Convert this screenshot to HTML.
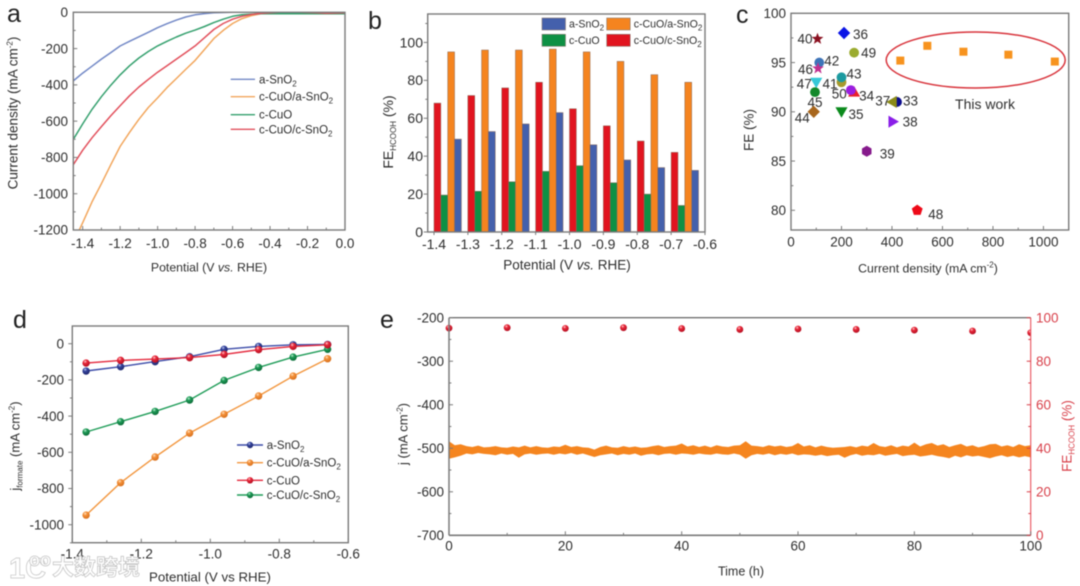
<!DOCTYPE html>
<html lang="en">
<head>
<meta charset="utf-8">
<title>Electrocatalysis performance charts</title>
<style>
html,body{margin:0;padding:0;background:#fff;width:1080px;height:586px;overflow:hidden}
svg{display:block;filter:blur(0.5px)}
text{font-family:"Liberation Sans","Noto Sans CJK SC",sans-serif;fill:#2e2e2e}
</style>
</head>
<body>
<svg id="chart" width="1080" height="586" viewBox="0 0 1080 586" xmlns="http://www.w3.org/2000/svg">
<defs>
<radialGradient id="ballRed" cx="38%" cy="30%" r="70%"><stop offset="0" stop-color="#ffd0d0"/><stop offset=".35" stop-color="#e8283a"/><stop offset="1" stop-color="#b40f22"/></radialGradient>
<radialGradient id="ballBlue" cx="38%" cy="30%" r="70%"><stop offset="0" stop-color="#c8d0f0"/><stop offset=".35" stop-color="#34449e"/><stop offset="1" stop-color="#20286e"/></radialGradient>
<radialGradient id="ballOrange" cx="38%" cy="30%" r="70%"><stop offset="0" stop-color="#ffe6c8"/><stop offset=".35" stop-color="#f4913a"/><stop offset="1" stop-color="#d8701c"/></radialGradient>
<radialGradient id="ballGreen" cx="38%" cy="30%" r="70%"><stop offset="0" stop-color="#c8f0d8"/><stop offset=".35" stop-color="#1f9c58"/><stop offset="1" stop-color="#0c6c38"/></radialGradient>
<clipPath id="clipA"><rect x="73" y="12" width="272" height="218"/></clipPath>
<clipPath id="clipE"><rect x="443" y="312" width="588" height="224"/></clipPath>
</defs>
<g id="panelA"></g>
<g id="panelB"></g>
<g id="panelC"></g>
<g id="panelD"></g>
<g id="panelE"></g>
<g>
<text x="9" y="578" font-size="29" font-weight="bold" style="fill:#fff;stroke:#c4c4c4;stroke-width:.7">1C</text>
<text x="29" y="566" font-size="18" font-weight="bold" style="fill:#fff;stroke:#c4c4c4;stroke-width:.7">oo</text>
<text x="52" y="575" font-size="22" font-weight="bold" style="fill:#fff;stroke:#c0c0c0;stroke-width:.7">大数跨境</text>
</g>
</svg>
<script>
/* ---------- panel a data ---------- */
const aPotential = [-1.45,-1.4,-1.35,-1.3,-1.25,-1.2,-1.15,-1.1,-1.05,-1.0,-0.95,-0.9,-0.85,-0.8,-0.75,-0.7,-0.65,-0.6,-0.55,-0.5,-0.45,-0.4,-0.35,-0.3,-0.25,-0.2,-0.15,-0.1,-0.05,0];
const aSnO2 = [-378,-335,-297,-258,-222,-186,-160,-135,-110,-85,-63,-43,-26,-14,-7,-3,-1,0,0,0,0,0,0,0,0,-1,-1,-2,-2,-2];
const aCuOaSnO2 = [-1270,-1160,-1045,-945,-840,-740,-662,-590,-525,-472,-415,-365,-315,-265,-205,-145,-100,-62,-35,-18,-8,-3,0,0,0,0,0,0,0,0];
const aCuO = [-700,-615,-535,-465,-402,-345,-295,-252,-216,-185,-160,-136,-115,-98,-78,-57,-38,-22,-14,-10,-8,-8,-8,-8,-8,-8,-8,-8,-8,-8];
const aCuOcSnO2 = [-840,-760,-692,-630,-570,-515,-460,-412,-370,-330,-295,-258,-222,-185,-140,-95,-62,-38,-22,-12,-6,-2,0,0,0,-1,-3,-5,-4,-3];
const aXTicks = ['-1.4','-1.2','-1.0','-0.8','-0.6','-0.4','-0.2','0.0'];
const aXMinor = [-1.3,-1.1,-0.9,-0.7,-0.5,-0.3,-0.1];
const aYTicks = ['0','-200','-400','-600','-800','-1000','-1200'];
const aYMinor = [-100,-300,-500,-700,-900,-1100];

/* ---------- panel b data ---------- */
const bCategories = ['-1.4','-1.3','-1.2','-1.1','-1.0','-0.9','-0.8','-0.7'];
const bCuOcSnO2 = [68,72,76,79,65,56,48,42];
const bCuO = [19.5,21.5,26.5,32,35,26,20,14];
const bCuOaSnO2 = [95,96,96,96.5,95,90,83,79];
const bSnO2 = [49,53,57,63,46,38,34,32.5];
const bXTicks = ['-1.4','-1.3','-1.2','-1.1','-1.0','-0.9','-0.8','-0.7','-0.6'];
const bYTicks = ['0','20','40','60','80','100'];
const bYMinor = [10,30,50,70,90,110];

/* ---------- panel c data ---------- */
const cLabels = ['36','40','49','42','46','41','43','47','45','44','34','50','35','37','33','38','39','48'];
const cCurrent = [210,105,250,112,107,200,200,100,95,90,250,237,200,405,420,400,300,500];
const cFE = [98,97.4,96,95,94.4,93,93.5,93,92,90,92,92.2,90,91,91,89,86,80];
const cWorkCurrent = [433,540,683,861,1045];
const cWorkFE = [95.2,96.7,96.1,95.8,95.1];
const cXTicks = ['0','200','400','600','800','1000'];
const cXMinor = [100,300,500,700,900,1100];
const cYTicks = ['80','85','90','95','100'];
const cYMinor = [82.5,87.5,92.5,97.5];

/* ---------- panel d data ---------- */
const dPotential = [-1.36,-1.26,-1.16,-1.06,-0.96,-0.86,-0.76,-0.66];
const dSnO2 = [-151,-127,-99,-72,-31,-15,-6,-4];
const dCuOaSnO2 = [-947,-768,-626,-494,-390,-289,-179,-83];
const dCuO = [-107,-92,-85,-77,-59,-33,-15,-6];
const dCuOcSnO2 = [-488,-431,-374,-311,-203,-131,-74,-31];
const dXTicks = ['-1.4','-1.2','-1.0','-0.8','-0.6'];
const dXMinor = [-1.3,-1.1,-0.9,-0.7];
const dYTicks = ['0','-200','-400','-600','-800','-1000'];
const dYMinor = [-100,-300,-500,-700,-900,-1100];

/* ---------- panel e data ---------- */
const eHours = [0,1,2,3,4,5,6,7,8,9,10,11,12,13,14,15,16,17,18,19,20,21,22,23,24,25,26,27,28,29,30,31,32,33,34,35,36,37,38,39,40,41,42,43,44,45,46,47,48,49,50,51,52,53,54,55,56,57,58,59,60,61,62,63,64,65,66,67,68,69,70,71,72,73,74,75,76,77,78,79,80,81,82,83,84,85,86,87,88,89,90,91,92,93,94,95,96,97,98,99,100];
const eCurrentHigh = [-484,-493,-491,-495,-497,-494,-498,-497,-495,-498,-499,-496,-498,-494,-498,-495,-498,-499,-496,-497,-492,-497,-495,-498,-499,-503,-497,-494,-498,-499,-495,-498,-496,-499,-498,-495,-493,-497,-495,-494,-489,-496,-493,-497,-494,-498,-493,-496,-497,-494,-493,-484,-494,-495,-497,-493,-496,-494,-497,-495,-488,-496,-493,-498,-494,-497,-499,-498,-497,-495,-498,-494,-496,-488,-495,-497,-493,-498,-494,-496,-487,-496,-491,-488,-494,-491,-497,-493,-490,-496,-493,-498,-495,-491,-490,-496,-493,-497,-491,-495,-493];
const eCurrentLow = [-524,-521,-517,-512,-514,-511,-513,-514,-516,-512,-515,-513,-522,-514,-512,-515,-513,-512,-515,-512,-514,-511,-515,-512,-516,-520,-516,-514,-512,-516,-513,-515,-512,-517,-514,-513,-516,-513,-512,-515,-512,-513,-515,-512,-514,-515,-512,-514,-515,-512,-515,-524,-516,-513,-515,-512,-516,-513,-515,-512,-516,-514,-515,-517,-515,-518,-516,-515,-522,-516,-513,-517,-515,-516,-513,-517,-515,-513,-518,-516,-515,-519,-517,-515,-518,-520,-523,-517,-521,-516,-519,-517,-520,-523,-519,-516,-520,-517,-521,-518,-521];
const eFETime = [0,10,20,30,40,50,60,70,80,90,100];
const eFEValues = [95.2,95.4,95.1,95.4,95,94.6,94.8,94.6,94.3,93.9,93.1];
const eXTicks = ['0','20','40','60','80','100'];
const eXMinor = [10,30,50,70,90];
const eYTicks = ['-200','-300','-400','-500','-600','-700'];
const eYMinor = [-250,-350,-450,-550,-650];
const eRTicks = ['0','20','40','60','80','100'];
const eRMinor = [10,30,50,70,90];

/* ---------- helpers ---------- */
const NS = 'http://www.w3.org/2000/svg';
const AXIS = '#7a7a7a';
function mk(tag, attrs, parent) {
  const el = document.createElementNS(NS, tag);
  for (const k in attrs) el.setAttribute(k, attrs[k]);
  parent.appendChild(el);
  return el;
}
function txt(markup, x, y, size, anchor, parent, color) {
  const el = mk('text', {x: x, y: y + size * 0.35, 'font-size': size, 'text-anchor': anchor || 'start'}, parent);
  el.innerHTML = markup;
  if (color) el.style.fill = color;
  return el;
}
function vtxt(markup, x, y, size, parent, color) {
  const el = mk('text', {x: 0, y: size * 0.35, 'font-size': size, 'text-anchor': 'middle', transform: 'translate(' + x + ' ' + y + ') rotate(-90)'}, parent);
  el.innerHTML = markup;
  if (color) el.style.fill = color;
  return el;
}
function scale(d0, d1, p0, p1) { return v => p0 + (v - d0) / (d1 - d0) * (p1 - p0); }
function frame(x, y, w, h, parent) {
  const el = mk('rect', {x: x, y: y, width: w, height: h, fill: 'none', stroke: AXIS, 'stroke-width': 1.4}, parent);
  
  
  return el;
}
function xAxis(sx, y0, labels, minors, len, labelY, size, parent, prefix) {
  labels.forEach(l => {
    const x = sx(+l);
    const t = mk('line', {x1: x, x2: x, y1: y0, y2: y0 + len, stroke: AXIS, 'stroke-width': 1}, parent);
    
    
    const lab = txt(l, x, labelY, size, 'middle', parent);
    
    
  });
  minors.forEach(m => {
    const x = sx(m);
    const t = mk('line', {x1: x, x2: x, y1: y0, y2: y0 + len * 0.6, stroke: AXIS, 'stroke-width': 1}, parent);
    
    
  });
}
function yAxis(sy, x0, labels, minors, len, labelX, size, anchor, parent, prefix, color) {
  labels.forEach(l => {
    const y = sy(+l);
    const t = mk('line', {x1: x0, x2: x0 + len, y1: y, y2: y, stroke: color || AXIS, 'stroke-width': 1}, parent);
    
    
    const lab = txt(l, labelX, y, size, anchor, parent, color);
    
    
  });
  minors.forEach(m => {
    const y = sy(m);
    const t = mk('line', {x1: x0, x2: x0 + len * 0.6, y1: y, y2: y, stroke: color || AXIS, 'stroke-width': 1}, parent);
    
    
  });
}
function letter(ch, x, y, size, parent) {
  const el = mk('text', {x: x, y: y, 'font-size': size}, parent);
  el.textContent = ch;
  el.style.fill = '#222';
  
  
}
const SUB2 = '<tspan dy="3" font-size="8">2</tspan>';
const SUP2 = '<tspan dy="-5" font-size="8">-2</tspan><tspan dy="5">)</tspan>';
const NAMES = ['a-SnO' + SUB2, 'c-CuO/a-SnO' + SUB2, 'c-CuO', 'c-CuO/c-SnO' + SUB2];

/* ---------- panel a ---------- */
(function () {
  const g = document.getElementById('panelA');
  const sx = scale(-1.45, 0, 73.3, 345);
  const sy = scale(0, -1200, 12.3, 230);
  letter('a', 7, 22, 25, g);
  const colors = ['#7288c6', '#f2a65c', '#35a06e', '#e2505c'];
  const keys = ['a-sno2', 'c-cuo-a-sno2', 'c-cuo', 'c-cuo-c-sno2'];
  const series = [aSnO2, aCuOaSnO2, aCuO, aCuOcSnO2];
  series.forEach((s, i) => {
    const pts = s.map((v, j) => sx(aPotential[j]).toFixed(1) + ',' + sy(v).toFixed(1)).join(' ');
    const line = mk('polyline', {points: pts, fill: 'none', stroke: colors[i], 'stroke-width': 1.5, 'stroke-linejoin': 'round', 'clip-path': 'url(#clipA)'}, g);
    
    
  });
  frame(73.3, 12.3, 271.7, 217.7, g);
  xAxis(sx, 230, aXTicks, aXMinor, -4, 243.5, 13.5, g, 'panel-a');
  yAxis(sy, 73.3, aYTicks, aYMinor, 4, 68, 13.5, 'end', g, 'panel-a');
  const t1 = txt('Potential (V <tspan font-style="italic">vs.</tspan> RHE)', 209, 267, 12.3, 'middle', g);
  
  
  const t2 = vtxt('Current density (mA cm' + SUP2, 13, 113, 13.5, g);
  
  
  const ly = [79.3, 96.7, 114.7, 129.3];
  NAMES.forEach((n, i) => {
    const l = mk('line', {x1: 230.7, x2: 255, y1: ly[i], y2: ly[i], stroke: colors[i], 'stroke-width': 1.4}, g);
    
    
    const t = txt(n, 259, ly[i], 11.5, 'start', g);
    
    
  });
})();

/* ---------- panel b ---------- */
(function () {
  const g = document.getElementById('panelB');
  const sx = scale(-1.4, -0.6, 434, 705);
  const sy = scale(0, 115, 232, 14);
  letter('b', 368, 29, 25, g);
  const series = [bCuOcSnO2, bCuO, bCuOaSnO2, bSnO2];
  const colors = ['#e1141f', '#0e9044', '#f5841f', '#4460ac'];
  const keys = ['c-cuo-c-sno2', 'c-cuo', 'c-cuo-a-sno2', 'a-sno2'];
  const barW = 6.85;
  series.forEach((s, i) => {
    s.forEach((v, j) => {
      const x = sx(+bCategories[j]) + i * barW;
      const r = mk('rect', {x: x, y: sy(v), width: barW, height: sy(0) - sy(v), fill: colors[i], stroke: '#8a6a5a', 'stroke-width': 0.5}, g);
      
      
    });
  });
  frame(427.7, 14, 277.3, 218, g);
  xAxis(sx, 232, bXTicks, [], 3, 244, 14, g, 'panel-b');
  yAxis(sy, 427.7, bYTicks, bYMinor, -4, 423, 14, 'end', g, 'panel-b');
  const t1 = txt('Potential (V <tspan font-style="italic">vs.</tspan> RHE)', 567, 265, 13.5, 'middle', g);
  
  
  const t2 = vtxt('FE<tspan dy="3" font-size="8">HCOOH</tspan><tspan dy="-3"> (%)</tspan>', 388, 132, 14, g);
  
  
  const legendColors = ['#4460ac', '#f5841f', '#0e9044', '#e1141f'];
  const legendKeys = ['a-sno2', 'c-cuo-a-sno2', 'c-cuo', 'c-cuo-c-sno2'];
  const lx = [542, 606.7, 542, 606.7];
  const ly = [18, 18, 34.3, 34.3];
  NAMES.forEach((n, i) => {
    const r = mk('rect', {x: lx[i], y: ly[i], width: 23.5, height: 12, fill: legendColors[i], stroke: '#8a7a70', 'stroke-width': 0.6}, g);
    
    
    const t = txt(n, lx[i] + 27, ly[i] + 6, 10.6, 'start', g);
    
    
  });
})();

/* ---------- panel c ---------- */
(function () {
  const g = document.getElementById('panelC');
  const sx = scale(0, 1100, 791, 1068.7);
  const sy = scale(78, 100, 230, 13.3);
  letter('c', 736, 23, 25, g);
  frame(791, 13.3, 277.7, 216.7, g);
  xAxis(sx, 230, cXTicks, cXMinor, -4, 241.7, 13.5, g, 'panel-c');
  yAxis(sy, 791, cYTicks, cYMinor, 4, 786, 13.5, 'end', g, 'panel-c');
  function poly(n, cx, cy, r, rot) {
    const p = [];
    for (let i = 0; i < n; i++) {
      const a = rot + i * 2 * Math.PI / n;
      p.push((cx + r * Math.cos(a)).toFixed(2) + ',' + (cy + r * Math.sin(a)).toFixed(2));
    }
    return p.join(' ');
  }
  function star(cx, cy, r) {
    const p = [];
    for (let i = 0; i < 10; i++) {
      const a = -Math.PI / 2 + i * Math.PI / 5;
      const q = i % 2 ? r * 0.42 : r;
      p.push((cx + q * Math.cos(a)).toFixed(2) + ',' + (cy + q * Math.sin(a)).toFixed(2));
    }
    return p.join(' ');
  }
  const mStyle = {
    '36': ['diamond', '#0a14e6', 9, 1.3, 'start'],
    '40': ['star', '#8a1020', -5, 0, 'end'],
    '49': ['circle', '#9aab2e', 7, 0, 'start'],
    '42': ['circle', '#3d74b8', 5, -2, 'start'],
    '46': ['star', '#c0308f', -5, 1, 'end'],
    '41': ['circle', '#a69a2d', -4, 1.5, 'end'],
    '43': ['circle', '#1c9aa0', 5, -3.5, 'start'],
    '47': ['tridown', '#35c8d8', -4.5, 1.5, 'end'],
    '45': ['circle', '#12882a', 0, 10, 'middle'],
    '44': ['diamond', '#a8661c', -4, 6, 'end'],
    '34': ['triup', '#e8202c', 5, 3.6, 'start'],
    '50': ['circle', '#9a1ee0', -4, 3.5, 'end'],
    '35': ['tridown', '#0a8a1c', 7, 2.3, 'start'],
    '37': ['trileft', '#8a8a18', -3, -1, 'end'],
    '33': ['circle', '#0c0c8c', 6, -1, 'start'],
    '38': ['triright', '#8a1ee8', 10.7, 0, 'start'],
    '39': ['hex', '#861a8c', 13, 2.5, 'start'],
    '48': ['pent', '#ee0a18', 11, 4, 'start']
  };
  const order = ['36','40','49','33','37','42','46','41','43','47','45','44','35','34','50','38','39','48'];
  order.forEach(lab => {
    const i = cLabels.indexOf(lab);
    const st = mStyle[lab];
    const x = sx(cCurrent[i]);
    const y = sy(cFE[i]);
    const R = 6.2;
    let m;
    if (st[0] === 'circle') m = mk('circle', {cx: x, cy: y, r: R - 1.3, fill: st[1]}, g);
    else if (st[0] === 'diamond') m = mk('polygon', {points: poly(4, x, y, R, 0), fill: st[1]}, g);
    else if (st[0] === 'star') m = mk('polygon', {points: star(x, y, R), fill: st[1]}, g);
    else if (st[0] === 'tridown') m = mk('polygon', {points: poly(3, x, y - 1, R + 0.8, Math.PI / 2), fill: st[1]}, g);
    else if (st[0] === 'triup') m = mk('polygon', {points: poly(3, x, y + 1, R + 0.8, -Math.PI / 2), fill: st[1]}, g);
    else if (st[0] === 'trileft') m = mk('polygon', {points: poly(3, x, y, R + 0.8, Math.PI), fill: st[1]}, g);
    else if (st[0] === 'triright') m = mk('polygon', {points: poly(3, x, y, R + 0.8, 0), fill: st[1]}, g);
    else if (st[0] === 'hex') m = mk('polygon', {points: poly(6, x, y, R - 0.7, Math.PI / 6), fill: st[1]}, g);
    else m = mk('polygon', {points: poly(5, x, y, R - 0.5, -Math.PI / 2), fill: st[1]}, g);
    
    
    const t = txt(lab, x + st[2], y + st[3], 13.5, st[4], g);
    
    
  });
  cWorkCurrent.forEach((v, i) => {
    const x = sx(v);
    const y = sy(cWorkFE[i]);
    const r = mk('rect', {x: x - 4, y: y - 4, width: 8, height: 8, fill: '#f7931e'}, g);
    
    
  });
  const e = mk('ellipse', {cx: 975.7, cy: 60, rx: 89.5, ry: 28, fill: 'none', stroke: '#d8343c', 'stroke-width': 1.5}, g);
  
  
  const tw = txt('This work', 985, 104, 14, 'middle', g);
  
  
  const t1 = txt('Current density (mA cm' + SUP2, 928, 268, 12.3, 'middle', g);
  
  
  const t2 = vtxt('FE (%)', 749, 130, 13.5, g);
  
  
})();

/* ---------- panel d ---------- */
(function () {
  const g = document.getElementById('panelD');
  const sx = scale(-1.4, -0.6, 72.3, 348.3);
  const sy = scale(0, -1000, 343.7, 524.7);
  letter('d', 13, 328, 25, g);
  frame(72.3, 326, 276, 216.7, g);
  xAxis(sx, 542.7, dXTicks, dXMinor, -4, 554, 13.5, g, 'panel-d');
  yAxis(sy, 72.3, dYTicks, dYMinor, -4, 64, 13.5, 'end', g, 'panel-d');
  const series = [dCuOaSnO2, dCuOcSnO2, dSnO2, dCuO];
  const lines = ['#f2963e', '#1f9c58', '#3a4aa8', '#e4283c'];
  const balls = ['ballOrange', 'ballGreen', 'ballBlue', 'ballRed'];
  const keys = ['c-cuo-a-sno2', 'c-cuo-c-sno2', 'a-sno2', 'c-cuo'];
  series.forEach((s, i) => {
    const pts = s.map((v, j) => sx(dPotential[j]).toFixed(1) + ',' + sy(v).toFixed(1)).join(' ');
    const l = mk('polyline', {points: pts, fill: 'none', stroke: lines[i], 'stroke-width': 1.4}, g);
    
    
    s.forEach((v, j) => {
      const c = mk('circle', {cx: sx(dPotential[j]), cy: sy(v), r: 3.7, fill: 'url(#' + balls[i] + ')'}, g);
      
      
    });
  });
  const ly = [445, 462.7, 480.3, 495];
  const lc = ['#3a4aa8', '#f2963e', '#e4283c', '#1f9c58'];
  const lb = ['ballBlue', 'ballOrange', 'ballRed', 'ballGreen'];
  const lk = ['a-sno2', 'c-cuo-a-sno2', 'c-cuo', 'c-cuo-c-sno2'];
  NAMES.forEach((n, i) => {
    const l = mk('line', {x1: 237, x2: 263, y1: ly[i], y2: ly[i], stroke: lc[i], 'stroke-width': 1.4}, g);
    
    
    const c = mk('circle', {cx: 250, cy: ly[i], r: 3.2, fill: 'url(#' + lb[i] + ')'}, g);
    
    
    const t = txt(n, 266.7, ly[i], 11.5, 'start', g);
    
    
  });
  const t1 = txt('Potential (V vs RHE)', 210, 576.7, 13.3, 'middle', g);
  
  
  const t2 = vtxt('j<tspan dy="3" font-size="8">formate</tspan><tspan dy="-3"> (mA cm</tspan>' + SUP2, 15, 446, 13, g);
  
  
})();

/* ---------- panel e ---------- */
(function () {
  const g = document.getElementById('panelE');
  const sx = scale(0, 100, 449, 1030.7);
  const sy = scale(-200, -700, 317.7, 535.3);
  const sr = scale(0, 100, 535.3, 317.7);
  letter('e', 380, 328, 25, g);
  const upper = eHours.map((h, i) => sx(h).toFixed(1) + ',' + sy(eCurrentHigh[i]).toFixed(1));
  const lower = eHours.map((h, i) => sx(h).toFixed(1) + ',' + sy(eCurrentLow[i]).toFixed(1)).reverse();
  const band = mk('polygon', {points: upper.concat(lower).join(' '), fill: '#f5851f'}, g);
  
  
  eFETime.forEach((h, i) => {
    const c = mk('circle', {cx: sx(h), cy: sr(eFEValues[i]), r: 3.4, fill: 'url(#ballRed)', 'clip-path': 'url(#clipE)'}, g);
    
    
  });
  const top = mk('line', {x1: 449, x2: 1030.7, y1: 317.7, y2: 317.7, stroke: '#555', 'stroke-width': 1.1}, g);
  
  
  const left = mk('line', {x1: 449, x2: 449, y1: 317.7, y2: 535.3, stroke: AXIS, 'stroke-width': 1.5}, g);
  
  
  const bottom = mk('line', {x1: 449, x2: 1030.7, y1: 535.3, y2: 535.3, stroke: AXIS, 'stroke-width': 1.6}, g);
  
  
  const right = mk('line', {x1: 1030.7, x2: 1030.7, y1: 317.7, y2: 535.3, stroke: '#e8505c', 'stroke-width': 1.1}, g);
  
  
  xAxis(sx, 535.3, eXTicks, eXMinor, -4, 546, 13.5, g, 'panel-e');
  yAxis(sy, 449, eYTicks, eYMinor, 4, 444, 13.5, 'end', g, 'panel-e');
  yAxis(sr, 1030.7, eRTicks, eRMinor, -4, 1036, 13.5, 'start', g, 'panel-e-right', '#d8404a');
  const t1 = txt('Time (h)', 741, 571, 12.5, 'middle', g);
  
  
  const t2 = vtxt('j (mA cm' + SUP2, 403, 434, 13, g);
  
  
  const t3 = vtxt('FE<tspan dy="3" font-size="8">HCOOH</tspan><tspan dy="-3"> (%)</tspan>', 1067, 436, 13.5, g, '#d8404a');
  
  
})();
</script>
</body>
</html>
